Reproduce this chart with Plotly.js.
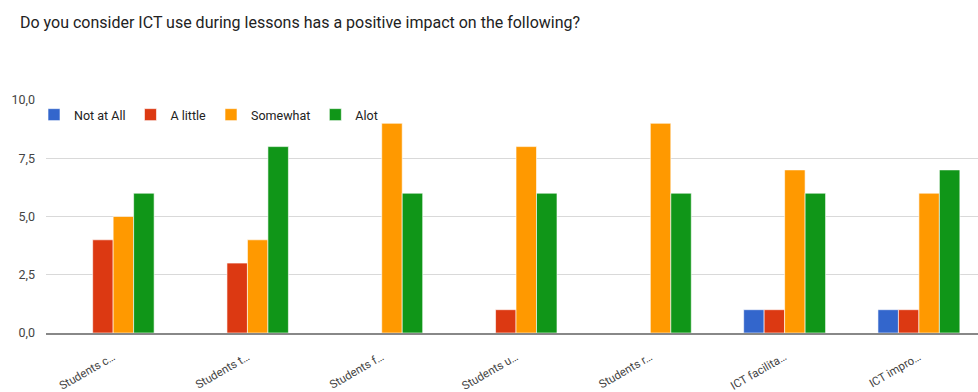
<!DOCTYPE html>
<html>
<head>
<meta charset="utf-8">
<script src="https://cdn.plot.ly/plotly-3.0.1.min.js"></script>
<style>html,body{margin:0;padding:0;background:#fff;}#chart{width:978px;height:392px;}</style>
</head>
<body>
<div id="chart"></div>
<script>
const categories = ["Students c…", "Students t…", "Students f…", "Students u…", "Students r…", "ICT facilita…", "ICT impro…"];
const notAtAll = [0, 0, 0, 0, 0, 1, 1];
const aLittle  = [4, 3, 0, 1, 0, 1, 1];
const somewhat = [5, 4, 9, 8, 9, 7, 6];
const alot     = [6, 8, 6, 6, 6, 6, 7];
const seriesNames = ["Not at All", "A little", "Somewhat", "Alot"];
const seriesColors = ["#3366cc", "#dc3912", "#ff9900", "#109618"];
const yTickVals = [0, 2.5, 5, 7.5, 10];
const yTickText = ["0,0", "2,5", "5,0", "7,5", "10,0"];

const values = [notAtAll, aLittle, somewhat, alot];
const idx = categories.map((_, i) => i);
const traces = values.map((v, k) => ({
  type: "bar",
  name: seriesNames[k],
  x: idx,
  y: v,
  marker: {color: seriesColors[k], line: {color: "rgba(255,255,255,0.6)", width: 1}},
  hoverinfo: "skip"
}));

const layout = {
  width: 978, height: 392,
  margin: {l: 46, r: 0, t: 100, b: 59},
  paper_bgcolor: "#fff", plot_bgcolor: "#fff",
  font: {family: "Roboto, Arial, sans-serif", size: 12, color: "#444"},
  title: {text: "Do you consider ICT use during lessons has a positive impact on the following?",
          x: 20 / 978, xref: "container", xanchor: "left", y: 1 - 22 / 392, yref: "container", yanchor: "middle",
          font: {family: "Roboto, Arial, sans-serif", size: 16, color: "#222"}},
  barmode: "group",
  bargap: 0.39,
  bargroupgap: 0.0,
  showlegend: true,
  legend: {orientation: "h", x: -12 / 932, xanchor: "left", y: 1, yanchor: "top",
           font: {size: 12.5, color: "#222"}, bgcolor: "rgba(0,0,0,0)", itemclick: false},
  xaxis: {range: [-0.5, 6.44], tickvals: idx, ticktext: categories, tickangle: -30,
          showgrid: false, zeroline: false, showline: true, linecolor: "#888", linewidth: 2,
          layer: "above traces", ticks: "", ticklabelstandoff: 11,
          tickfont: {size: 11.5, color: "#444"}, fixedrange: true},
  yaxis: {range: [0, 10], tickvals: yTickVals, ticktext: yTickText,
          showgrid: true, gridcolor: "#d9d9d9", gridwidth: 1,
          zeroline: false, showline: false,
          ticks: "", ticklabelstandoff: 10, tickfont: {size: 12.5, color: "#444"}, fixedrange: true}
};
Plotly.newPlot("chart", traces, layout, {displayModeBar: false, staticPlot: true});
</script>
</body>
</html>
